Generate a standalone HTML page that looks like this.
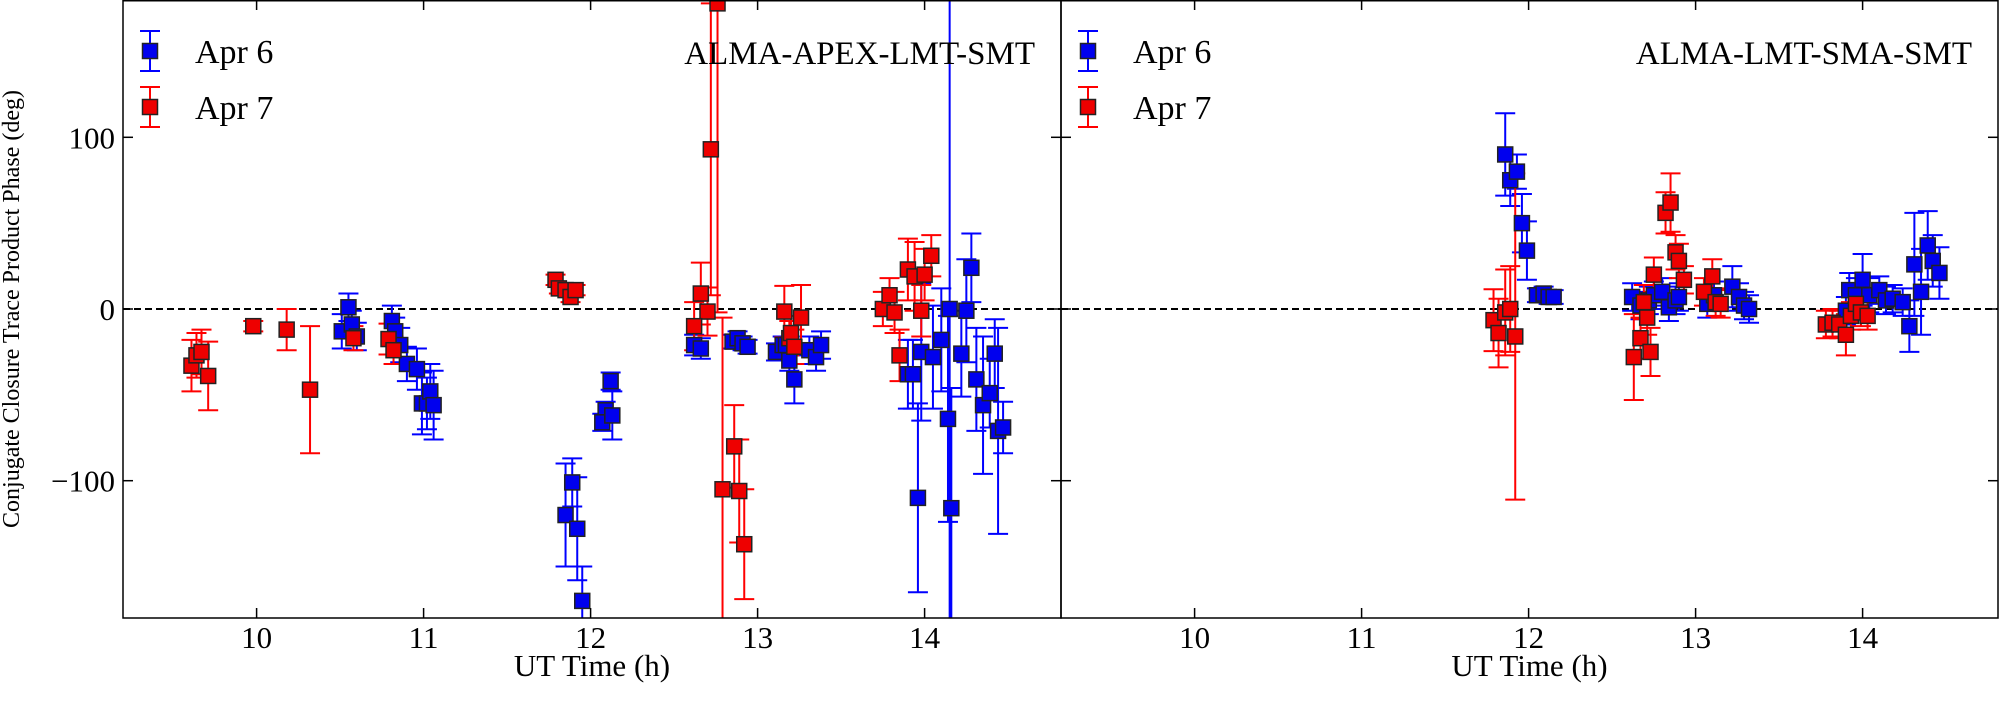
<!DOCTYPE html>
<html><head><meta charset="utf-8"><style>
html,body{margin:0;padding:0;background:#fff;}
svg{display:block;font-family:"Liberation Serif",serif;}
</style></head><body>
<svg id="s" width="2000" height="701" xmlns="http://www.w3.org/2000/svg"></svg>
<script>
const S=document.getElementById('s');
let h='';
const Y0=309, YS=1.717, HS=167;
function Y(d){return Y0-d*YS;}
const panels=[{x0:123,x1:1061,title:'ALMA-APEX-LMT-SMT'},{x0:1061,x1:1998,title:'ALMA-LMT-SMA-SMT'}];
function X(p,t){return p.x0+(t-9.2)*HS;}
const L={
 r:[[9.61,-33,15],[9.64,-27,13],[9.67,-25,13],[9.71,-39,20],[9.98,-10,3],[10.18,-12,12],[10.32,-47,37],[10.58,-17,7],[10.79,-17.5,9],[10.82,-24,8],
 [11.79,17,3],[11.81,12,3],[11.85,11,3],[11.88,7,3],[11.91,11,3],
 [12.66,9,18],[12.70,-1.5,14],[12.62,-10,14],[12.72,93,85],[12.76,178,180],[12.86,-80,24],[12.79,-105,100],[12.89,-106,30],[12.92,-137,32],
 [13.16,-1.5,15],[13.26,-5,19],[13.19,-17,10],[13.20,-14,10],[13.22,-22,10],
 [13.75,0,10],[13.79,8,10],[13.82,-2,12],[13.85,-27,15],[13.9,23,18],[13.94,19,20],[13.98,-1,15],[14.0,20,15],[14.04,31,12]],
 b:[[10.55,1,8],[10.51,-13,10],[10.57,-9,8],[10.6,-16,8],[10.81,-7,9],[10.83,-13,8],[10.86,-21,10],[10.9,-32,10],[10.96,-35,12],[10.99,-55,18],[11.02,-55,15],[11.04,-48,16],[11.06,-56,20],
 [11.85,-120,30],[11.89,-101,14],[11.92,-128,30],[11.95,-170,20],
 [12.12,-42,5],[12.09,-59,5],[12.07,-66,5],[12.13,-62,14],[12.62,-21,6],[12.66,-23,6],[12.85,-19,4],[12.88,-17,4],[12.91,-20,4],[12.94,-22,4],
 [13.11,-25,5],[13.15,-21,5],[13.17,-21,5],[13.19,-30,6],[13.22,-41,14],[13.31,-24,8],[13.35,-28,8],[13.38,-21,8],
 [13.9,-38,20],[13.93,-38,20],[13.96,-110,55],[13.98,-25,40],[14.05,-28,30],[14.1,-18,30],[14.14,-64,60],[14.15,0,250],[14.16,-116,70],[14.22,-26,25],[14.25,-1,30],[14.28,24,20],[14.31,-41,30],[14.35,-56,40],[14.39,-49,20],[14.42,-26,20],[14.44,-71,60],[14.47,-69,15]]
};
const R={
 r:[[11.79,-6.5,18],[11.82,-14,20],[11.86,-2,25],[11.89,0,25],[11.92,-16,95],
 [12.63,-28,25],[12.67,-17,12],[12.69,4,10],[12.71,-5,10],[12.73,-25,14],[12.75,20,10],[12.82,56,12],[12.85,62,17],[12.88,33,10],[12.9,28,10],[12.93,17,8],
 [13.05,10,8],[13.1,19,10],[13.12,4,8],[13.15,3,8],
 [13.78,-9,8],[13.82,-8,8],[13.86,-9,8],[13.9,-15,12],[13.93,-4,8],[13.96,3,8],[13.99,-2,8],[14.03,-4,8]],
 b:[[11.86,90,24],[11.89,75,15],[11.93,80,10],[11.96,50,17],[11.99,34,17],[12.05,8,4],[12.09,9,4],[12.12,7,4],[12.15,7,4],
 [12.62,7,8],[12.67,2,8],[12.72,5,8],[12.75,8,8],[12.8,10,8],[12.84,1,8],[12.88,5,8],[12.9,7,8],[13.07,3,8],[13.11,8,8],[13.22,13,12],[13.26,7,8],[13.29,2,8],[13.32,0,8],
 [13.9,-1,8],[13.92,11,10],[13.96,8,10],[14.0,17,15],[14.04,8,10],[14.1,11,8],[14.14,5,8],[14.18,6,8],[14.24,4,8],[14.28,-10,15],[14.31,26,30],[14.35,10,25],[14.39,37,20],[14.42,28,15],[14.46,21,15]]
};
const col={r:'#ff0000',b:'#0000ff'};
const fill={r:'#ee0000',b:'#0000ee'};
function plot(p,D){
 let bars='',marks='';
 for(const k of ['b','r']){
  for(const [t,d,e] of D[k]){
   const x=X(p,t),y=Y(d),y1=Math.max(0,Y(d+e)),y2=Math.min(618,Y(d-e));
   bars+=`<line x1="${x}" y1="${y1}" x2="${x}" y2="${y2}" stroke="${col[k]}" stroke-width="2"/>`;
   if(Y(d+e)>0)bars+=`<line x1="${x-10}" y1="${y1}" x2="${x+10}" y2="${y1}" stroke="${col[k]}" stroke-width="2"/>`;
   if(Y(d-e)<618)bars+=`<line x1="${x-10}" y1="${y2}" x2="${x+10}" y2="${y2}" stroke="${col[k]}" stroke-width="2"/>`;
   if(y>-8&&y<626)marks+=`<rect x="${x-7.5}" y="${y-7.5}" width="15" height="15" fill="${fill[k]}" stroke="#222" stroke-width="1.5"/>`;
  }
 }
 return bars+marks;
}
h+=`<defs><clipPath id="c0"><rect x="123" y="0" width="938" height="618"/></clipPath><clipPath id="c1"><rect x="1061" y="0" width="937" height="618"/></clipPath></defs>`;
panels.forEach((p,i)=>{
 h+=`<line x1="${p.x0}" y1="${Y0}" x2="${p.x1}" y2="${Y0}" stroke="#000" stroke-width="2" stroke-dasharray="7,4"/>`;
 h+=`<g clip-path="url(#c${i})">${plot(p,i?R:L)}</g>`;
 for(let t=10;t<=14;t++){const x=X(p,t);
  h+=`<line x1="${x}" y1="618" x2="${x}" y2="608" stroke="#000" stroke-width="1.5"/><line x1="${x}" y1="0" x2="${x}" y2="10" stroke="#000" stroke-width="1.5"/>`;
  h+=`<text x="${x}" y="648" font-size="31" text-anchor="middle">${t}</text>`;}
 for(const d of [-100,0,100]){const y=Y(d);
  h+=`<line x1="${p.x0}" y1="${y}" x2="${p.x0+10}" y2="${y}" stroke="#000" stroke-width="1.5"/><line x1="${p.x1-10}" y1="${y}" x2="${p.x1}" y2="${y}" stroke="#000" stroke-width="1.5"/>`;}
 h+=`<text x="${(p.x0+p.x1)/2}" y="676" font-size="31" text-anchor="middle">UT Time (h)</text>`;
 h+=`<text x="${p.x1-26}" y="64" font-size="33" text-anchor="end">${p.title}</text>`;
 const lx=p.x0+27;
 [['b','Apr 6',51],['r','Apr 7',107]].forEach(([k,txt,y])=>{
  h+=`<line x1="${lx}" y1="${y-20}" x2="${lx}" y2="${y+20}" stroke="${col[k]}" stroke-width="2"/><line x1="${lx-10}" y1="${y-20}" x2="${lx+10}" y2="${y-20}" stroke="${col[k]}" stroke-width="2"/><line x1="${lx-10}" y1="${y+20}" x2="${lx+10}" y2="${y+20}" stroke="${col[k]}" stroke-width="2"/><rect x="${lx-7.5}" y="${y-7.5}" width="15" height="15" fill="${fill[k]}" stroke="#222" stroke-width="1.5"/>`;
  h+=`<text x="${lx+45}" y="${y+12}" font-size="34">${txt}</text>`;});
 h+=`<rect x="${p.x0}" y="0.75" width="${p.x1-p.x0}" height="617.25" fill="none" stroke="#000" stroke-width="1.5"/>`;
});
[[100,'100'],[0,'0'],[-100,'\u2212100']].forEach(([d,t])=>{h+=`<text x="115" y="${Y(d)+11}" font-size="31" text-anchor="end">${t}</text>`;});
h+=`<text transform="translate(19,309) rotate(-90)" font-size="24" text-anchor="middle">Conjugate Closure Trace Product Phase (deg)</text>`;
S.innerHTML=h;
</script>
</body></html>
